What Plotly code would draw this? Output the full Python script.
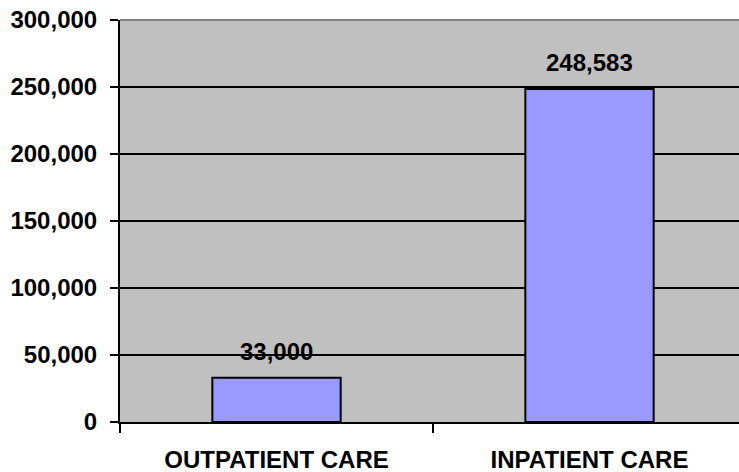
import plotly.graph_objects as go

categories = ["OUTPATIENT CARE", "INPATIENT CARE"]
values = [33000, 248583]
y_ticks = [0, 50000, 100000, 150000, 200000, 250000, 300000]
y_tick_labels = ["0", "50,000", "100,000", "150,000", "200,000", "250,000", "300,000"]

FONT = "Liberation Sans, Arial, sans-serif"

fig = go.Figure()
fig.add_trace(go.Bar(
    x=categories, y=values, width=0.41,
    marker=dict(color="#9999FF", line=dict(color="black", width=2)),
    hoverinfo="skip",
))

for c, v in zip(categories, values):
    fig.add_annotation(x=c, y=v, text=f"<b>{v:,}</b>", showarrow=False,
                       yanchor="middle", yshift=26,
                       font=dict(family=FONT, size=24, color="black"))

fig.add_shape(type="line", xref="paper", yref="paper", x0=0, x1=1, y0=1, y1=1,
              line=dict(color="#808080", width=2), layer="above")

fig.update_layout(
    width=739, height=472,
    margin=dict(l=120, r=0, t=20, b=50, autoexpand=False),
    paper_bgcolor="white", plot_bgcolor="#C0C0C0",
    showlegend=False,
    font=dict(family=FONT, color="black"),
    xaxis=dict(
        range=[-0.5, 1.4776], type="category", automargin=False,
        tickson="boundaries", ticks="outside", ticklen=9, tickwidth=2, tickcolor="black",
        showline=True, linecolor="black", linewidth=2, showgrid=False,
        tickfont=dict(family=FONT, size=24, color="black", weight="bold"),
        ticklabelstandoff=15,
    ),
    yaxis=dict(
        range=[0, 300000], tickvals=y_ticks, ticktext=y_tick_labels, automargin=False,
        ticks="outside", ticklen=8, tickwidth=2, tickcolor="black",
        showline=True, linecolor="black", linewidth=2,
        showgrid=True, gridcolor="black", gridwidth=2, zeroline=False,
        tickfont=dict(family=FONT, size=24, color="black", weight="bold"),
        ticklabelstandoff=8,
    ),
)

fig.write_html("out.html", config={"displayModeBar": False},
               post_script="document.body.style.margin='0';")
